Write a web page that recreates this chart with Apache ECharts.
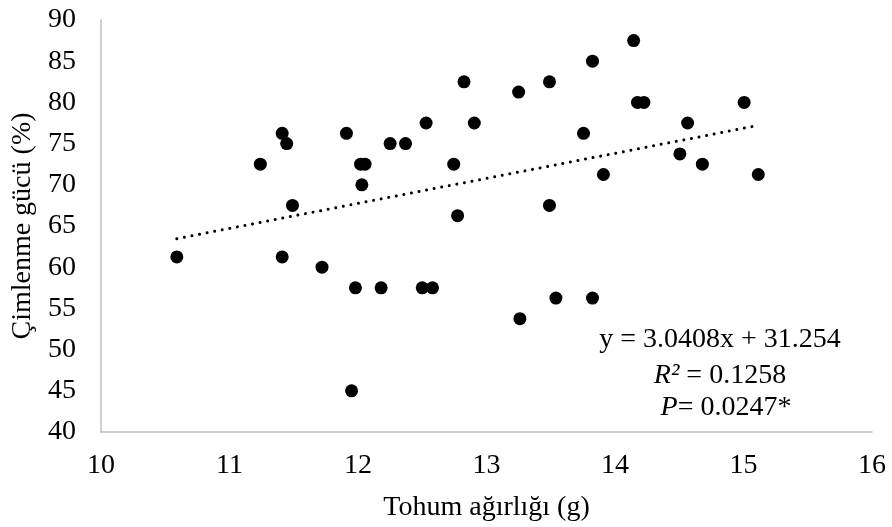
<!DOCTYPE html>
<html>
<head>
<meta charset="utf-8">
<script src="https://cdn.jsdelivr.net/npm/echarts@6/dist/echarts.min.js"></script>
<style>html,body{margin:0;padding:0;background:#fff;}#c{width:892px;height:527px;}</style>
</head>
<body>
<div id="c"></div>
<script>
// Seed weight (g)
const seedWeight = [10.59, 11.24, 11.41, 11.41, 11.445, 11.49, 11.72, 11.91, 11.95, 11.98,
  12.02, 12.055, 12.03, 12.18, 12.25, 12.37, 12.50, 12.53, 12.58, 12.745,
  12.775, 12.825, 12.905, 13.25, 13.26, 13.49, 13.49, 13.54, 13.755, 13.825,
  13.825, 13.91, 14.145, 14.175, 14.225, 14.505, 14.565, 14.68, 15.005, 15.115];
// Germination power (%)
const germination = [61.25, 72.5, 76.25, 61.25, 75, 67.5, 60, 76.25, 45, 57.5,
  72.5, 72.5, 70, 57.5, 75, 75, 57.5, 77.5, 57.5, 72.5,
  66.25, 82.5, 77.5, 81.25, 53.75, 82.5, 67.5, 56.25, 76.25, 85,
  56.25, 71.25, 87.5, 80, 80, 73.75, 77.5, 72.5, 80, 71.25];
// Trend line end points
const trendX = [10.59, 15.115];
const trendY = [63.46, 77.21];
const xTicks = [10, 11, 12, 13, 14, 15, 16];
const yTicks = [40, 45, 50, 55, 60, 65, 70, 75, 80, 85, 90];

const font = '"Liberation Serif", "Times New Roman", serif';
const chart = echarts.init(document.getElementById('c'));
chart.setOption({
  animation: false,
  backgroundColor: '#fff',
  grid: { left: 101, right: 20, top: 20, bottom: 95 },
  xAxis: {
    type: 'value', min: xTicks[0], max: xTicks[xTicks.length - 1], interval: 1,
    name: 'Tohum ağırlığı (g)', nameLocation: 'middle', nameGap: 62,
    nameTextStyle: { fontFamily: font, fontSize: 28, color: '#000' },
    axisLine: { show: true, lineStyle: { color: '#bfbfbf', width: 1.5 } },
    axisTick: { show: false },
    splitLine: { show: false },
    axisLabel: { fontFamily: font, fontSize: 28, color: '#000', margin: 20 }
  },
  yAxis: {
    type: 'value', min: yTicks[0], max: yTicks[yTicks.length - 1], interval: 5,
    name: 'Çimlenme gücü (%)', nameLocation: 'middle', nameGap: 55,
    nameTextStyle: { fontFamily: font, fontSize: 28, color: '#000' },
    axisLine: { show: true, lineStyle: { color: '#bfbfbf', width: 1.5 } },
    axisTick: { show: false },
    splitLine: { show: false },
    axisLabel: { fontFamily: font, fontSize: 28, color: '#000', margin: 25 }
  },
  series: [
    {
      type: 'line',
      data: trendX.map((x, i) => [x, trendY[i]]),
      symbol: 'none',
      lineStyle: { color: '#000', width: 3, type: [0.01, 7.7], cap: 'round' },
      z: 1
    },
    {
      type: 'scatter',
      data: seedWeight.map((x, i) => [x, germination[i]]),
      symbol: 'circle',
      symbolSize: 13,
      itemStyle: { color: '#000', opacity: 1 },
      emphasis: { disabled: true },
      z: 2
    }
  ],
  graphic: [
    { type: 'text', x: 720, y: 340, style: { text: 'y = 3.0408x + 31.254', font: '28px ' + font, fill: '#000', align: 'center', verticalAlign: 'middle' } },
    { type: 'text', x: 720, y: 376, style: { text: '{i|R²} = 0.1258', fill: '#000', align: 'center', verticalAlign: 'middle', font: '28px ' + font,
        rich: { i: { fontStyle: 'italic', fontFamily: font, fontSize: 28 } } } },
    { type: 'text', x: 726, y: 408, style: { text: '{i|P}= 0.0247*', fill: '#000', align: 'center', verticalAlign: 'middle', font: '28px ' + font,
        rich: { i: { fontStyle: 'italic', fontFamily: font, fontSize: 28 } } } }
  ]
});
</script>
</body>
</html>
